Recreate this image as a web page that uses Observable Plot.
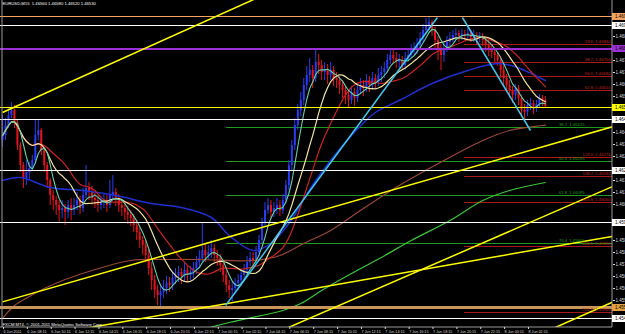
<!DOCTYPE html>
<html><head><meta charset="utf-8">
<script src="https://cdn.jsdelivr.net/npm/d3@7"></script>
<script src="https://cdn.jsdelivr.net/npm/@observablehq/plot@0.6"></script>
<style>html,body{margin:0;padding:0;background:#000;overflow:hidden}</style>
</head><body><div id="chart"></div>
<script>
const symbol = "EURUSD,M15";
const copyright = "FXCM MT4, \u00a9 2001-2011 MetaQuotes Software Corp.";

const opens = [1.46360,1.46385,1.46435,1.46485,1.46510,1.46450,1.46335,1.46235,1.46170,1.46200,
1.46220,1.46260,1.46385,1.46410,1.46310,1.46235,1.46160,1.46085,1.46060,1.46035,
1.46010,1.46020,1.46000,1.46035,1.46010,1.46035,1.46060,1.46020,1.46085,1.46120,
1.46100,1.46070,1.46060,1.46035,1.46045,1.46060,1.46035,1.46085,1.46100,1.46070,
1.46035,1.46020,1.46000,1.45985,1.45970,1.45935,1.45900,1.45860,1.45835,1.45785,
1.45720,1.45660,1.45610,1.45585,1.45600,1.45620,1.45645,1.45635,1.45670,1.45685,
1.45700,1.45680,1.45710,1.45685,1.45700,1.45720,1.45750,1.45770,1.45810,1.45785,
1.45800,1.45820,1.45785,1.45770,1.45735,1.45685,1.45635,1.45610,1.45620,1.45645,
1.45660,1.45685,1.45710,1.45750,1.45770,1.45760,1.45800,1.45860,1.45950,1.46010,
1.46035,1.46000,1.46020,1.46035,1.46010,1.46060,1.46135,1.46235,1.46335,1.46435,
1.46510,1.46560,1.46635,1.46685,1.46710,1.46670,1.46750,1.46735,1.46700,1.46710,
1.46685,1.46710,1.46670,1.46660,1.46635,1.46610,1.46585,1.46560,1.46600,1.46570,
1.46610,1.46635,1.46620,1.46660,1.46635,1.46670,1.46650,1.46685,1.46700,1.46720,
1.46760,1.46785,1.46770,1.46750,1.46760,1.46735,1.46770,1.46785,1.46810,1.46820,
1.46835,1.46870,1.46910,1.46935,1.46950,1.46910,1.46860,1.46810,1.46785,1.46820,
1.46850,1.46870,1.46885,1.46895,1.46880,1.46890,1.46885,1.46895,1.46875,1.46885,
1.46870,1.46880,1.46860,1.46835,1.46820,1.46800,1.46785,1.46760,1.46710,1.46670,
1.46635,1.46610,1.46585,1.46620,1.46570,1.46510,1.46500,1.46535,1.46545,1.46520,
1.46540,1.46570,1.46560];

const highs = [1.46485,1.46470,1.46520,1.46550,1.46535,1.46460,1.46350,1.46250,1.46260,1.46250,
1.46285,1.46460,1.46460,1.46420,1.46320,1.46250,1.46170,1.46110,1.46080,1.46060,
1.46060,1.46040,1.46060,1.46070,1.46070,1.46100,1.46080,1.46120,1.46235,1.46150,
1.46130,1.46100,1.46085,1.46080,1.46090,1.46085,1.46160,1.46185,1.46120,1.46090,
1.46060,1.46045,1.46030,1.46010,1.45990,1.45960,1.45920,1.45880,1.45860,1.45810,
1.45750,1.45685,1.45635,1.45640,1.45660,1.45680,1.45675,1.45700,1.45720,1.45730,
1.45720,1.45750,1.45735,1.45730,1.45750,1.45780,1.45810,1.45945,1.45840,1.45835,
1.45860,1.45840,1.45810,1.45790,1.45760,1.45710,1.45660,1.45650,1.45670,1.45690,
1.45710,1.45740,1.45780,1.45800,1.45800,1.45830,1.45885,1.45970,1.46050,1.46070,
1.46060,1.46050,1.46070,1.46060,1.46090,1.46160,1.46260,1.46360,1.46470,1.46540,
1.46600,1.46670,1.46730,1.46770,1.46735,1.46820,1.46790,1.46760,1.46750,1.46740,
1.46750,1.46730,1.46700,1.46680,1.46660,1.46630,1.46610,1.46630,1.46620,1.46640,
1.46670,1.46660,1.46690,1.46680,1.46700,1.46690,1.46720,1.46730,1.46750,1.46790,
1.46820,1.46810,1.46800,1.46790,1.46780,1.46800,1.46820,1.46840,1.46850,1.46870,
1.46900,1.46940,1.46970,1.46975,1.46960,1.46925,1.46880,1.46840,1.46850,1.46880,
1.46900,1.46910,1.46920,1.46910,1.46915,1.46910,1.46920,1.46910,1.46910,1.46900,
1.46900,1.46895,1.46875,1.46860,1.46840,1.46820,1.46800,1.46780,1.46735,1.46690,
1.46660,1.46630,1.46640,1.46635,1.46585,1.46540,1.46560,1.46570,1.46560,1.46560,
1.46590,1.46585,1.46580];

const lows = [1.46325,1.46360,1.46420,1.46470,1.46420,1.46310,1.46200,1.46120,1.46135,1.46160,
1.46210,1.46245,1.46360,1.46285,1.46200,1.46120,1.46035,1.46010,1.45985,1.45950,
1.45970,1.45935,1.45970,1.45960,1.45985,1.46010,1.45990,1.46000,1.46070,1.46060,
1.46035,1.46020,1.46000,1.46010,1.46020,1.46000,1.46020,1.46060,1.46030,1.46000,
1.45980,1.45960,1.45940,1.45930,1.45900,1.45860,1.45820,1.45785,1.45750,1.45685,
1.45610,1.45570,1.45535,1.45530,1.45570,1.45590,1.45600,1.45610,1.45640,1.45650,
1.45640,1.45650,1.45650,1.45660,1.45670,1.45690,1.45720,1.45750,1.45750,1.45760,
1.45770,1.45750,1.45730,1.45700,1.45650,1.45600,1.45570,1.45545,1.45590,1.45610,
1.45630,1.45660,1.45690,1.45730,1.45720,1.45740,1.45780,1.45840,1.45930,1.45990,
1.45970,1.45975,1.45990,1.45980,1.45990,1.46040,1.46110,1.46210,1.46310,1.46410,
1.46480,1.46535,1.46610,1.46650,1.46620,1.46650,1.46690,1.46660,1.46660,1.46640,
1.46660,1.46630,1.46620,1.46590,1.46570,1.46540,1.46520,1.46540,1.46530,1.46550,
1.46590,1.46580,1.46600,1.46600,1.46610,1.46620,1.46630,1.46650,1.46670,1.46700,
1.46740,1.46740,1.46720,1.46720,1.46710,1.46710,1.46750,1.46770,1.46780,1.46790,
1.46810,1.46850,1.46890,1.46910,1.46880,1.46820,1.46760,1.46710,1.46750,1.46800,
1.46830,1.46850,1.46860,1.46850,1.46860,1.46860,1.46860,1.46850,1.46850,1.46840,
1.46850,1.46830,1.46800,1.46780,1.46770,1.46750,1.46730,1.46670,1.46630,1.46600,
1.46570,1.46545,1.46560,1.46535,1.46480,1.46460,1.46480,1.46510,1.46490,1.46500,
1.46520,1.46530,1.46520];

const closes = [1.46385,1.46435,1.46485,1.46510,1.46450,1.46335,1.46235,1.46170,1.46200,1.46220,
1.46260,1.46385,1.46410,1.46310,1.46235,1.46160,1.46085,1.46060,1.46035,1.46010,
1.46020,1.46000,1.46035,1.46010,1.46035,1.46060,1.46020,1.46085,1.46120,1.46100,
1.46070,1.46060,1.46035,1.46045,1.46060,1.46035,1.46085,1.46100,1.46070,1.46035,
1.46020,1.46000,1.45985,1.45970,1.45935,1.45900,1.45860,1.45835,1.45785,1.45720,
1.45660,1.45610,1.45585,1.45600,1.45620,1.45645,1.45635,1.45670,1.45685,1.45700,
1.45680,1.45710,1.45685,1.45700,1.45720,1.45750,1.45770,1.45810,1.45785,1.45800,
1.45820,1.45785,1.45770,1.45735,1.45685,1.45635,1.45610,1.45620,1.45645,1.45660,
1.45685,1.45710,1.45750,1.45770,1.45760,1.45800,1.45860,1.45950,1.46010,1.46035,
1.46000,1.46020,1.46035,1.46010,1.46060,1.46135,1.46235,1.46335,1.46435,1.46510,
1.46560,1.46635,1.46685,1.46710,1.46670,1.46750,1.46735,1.46700,1.46710,1.46685,
1.46710,1.46670,1.46660,1.46635,1.46610,1.46585,1.46560,1.46600,1.46570,1.46610,
1.46635,1.46620,1.46660,1.46635,1.46670,1.46650,1.46685,1.46700,1.46720,1.46760,
1.46785,1.46770,1.46750,1.46760,1.46735,1.46770,1.46785,1.46810,1.46820,1.46835,
1.46870,1.46910,1.46935,1.46950,1.46910,1.46860,1.46810,1.46785,1.46820,1.46850,
1.46870,1.46885,1.46895,1.46880,1.46890,1.46885,1.46895,1.46875,1.46885,1.46870,
1.46880,1.46860,1.46835,1.46820,1.46800,1.46785,1.46760,1.46710,1.46670,1.46635,
1.46610,1.46585,1.46620,1.46570,1.46510,1.46500,1.46535,1.46545,1.46520,1.46540,
1.46570,1.46560,1.46530];

// time axis (15-minute bars, label every 8 bars)
const timeTickBars = [0,8,16,24,32,40,48,56,64,72,80,88,96,104,112,120,128,136,144,152,160,168,176];
const timeLabels = ["6 Jun 2011","6 Jun 08:15","6 Jun 10:15","6 Jun 12:15","6 Jun 14:15","6 Jun 16:15","6 Jun 18:15","6 Jun 20:15","6 Jun 22:15","7 Jun 00:15","7 Jun 02:15","7 Jun 04:15","7 Jun 06:15","7 Jun 08:15","7 Jun 10:15","7 Jun 12:15","7 Jun 14:15","7 Jun 16:15","7 Jun 18:15","7 Jun 20:15","7 Jun 22:15","8 Jun 00:15","8 Jun 02:15"];
const priceTicks = [1.47000,1.46940,1.46880,1.46820,1.46760,1.46700,1.46640,1.46580,1.46520,1.46460,1.46400,1.46340,1.46280,1.46220,1.46160,1.46100,1.46040,1.45980,1.45920,1.45860,1.45800,1.45740,1.45680,1.45620,1.45560,1.45500,1.45440];

// horizontal lines by colour
const whiteLevels = [1.46935,1.46465,1.46210,1.45950,1.45470];
const orangeLevels = [1.46980];
const purpleLevels = [1.46820];
const yellowLevels = [1.46525];
const tanLevels = [1.45525];

// Fibonacci objects
const fibRedStart = 155;
const fibRedLevels = ["23.6","38.2","50.0","61.8","123.6","138.2","161.8","200.0","261.8"];
const fibRedPrices = [1.46840,1.46750,1.46680,1.46610,1.46275,1.46180,1.46050,1.45830,1.45500];
const fibGreenStart = 75;
const fibGreenLevels = ["38.2","50.0","61.8","76.4"];
const fibGreenPrices = [1.46425,1.46255,1.46085,1.45845];

// trend lines (bar index, price)
const yellowTrends = [
  {i1:0, p1:1.46500, i2:90, p2:1.47104},
  {i1:0, p1:1.45553, i2:205, p2:1.46431},
  {i1:16, p1:1.45390, i2:205, p2:1.45882},
  {i1:90, p1:1.45387, i2:205, p2:1.46133},
  {i1:180, p1:1.45390, i2:205, p2:1.45555}
];
const cyanTrends = [
  {i1:74.8, p1:1.45535, i2:145.8, p2:1.46975},
  {i1:154.2, p1:1.46975, i2:177, p2:1.46410}
];

// slow moving averages
const blueMaBars = [0,6,16,27,38,50,60,70,76,84,90,96,105,117,125,133,144,156,166,172.6,180,182];
const blueMaPrices = [1.46160,1.46175,1.46125,1.46110,1.46085,1.46045,1.46025,1.45975,1.45885,1.45810,1.45845,1.45945,1.46160,1.46385,1.46500,1.46560,1.46645,1.46710,1.46745,1.46725,1.46675,1.46660];
const brownMaBars = [0,4,9,14,21,30,43,55,66,84,93,101,110,120,133,148,161,170,181,182];
const brownMaPrices = [1.45470,1.45535,1.45580,1.45620,1.45665,1.45710,1.45760,1.45765,1.45765,1.45760,1.45785,1.45845,1.45910,1.46010,1.46135,1.46260,1.46360,1.46410,1.46435,1.46437];
const greenMaBars = [61,76,94,100,107,117,127,137,150,161,170,182];
const greenMaPrices = [1.45390,1.45450,1.45510,1.45545,1.45610,1.45695,1.45775,1.45860,1.45960,1.46060,1.46110,1.46150];

// ---------- build ----------
const bars = closes.map((c, i) => ({i, open: opens[i], high: highs[i], low: lows[i], close: c}));
const last = bars[bars.length - 1];
const title = `${symbol}  ${last.open.toFixed(5)} ${last.high.toFixed(5)} ${last.low.toFixed(5)} ${last.close.toFixed(5)}`;
const zip = (xs, ys) => xs.map((x, k) => ({x, y: ys[k]}));
const fibRed = fibRedLevels.map((l, k) => ({level: l, price: fibRedPrices[k]}));
const fibGreen = fibGreenLevels.map((l, k) => ({level: l, price: fibGreenPrices[k]}));

const X0 = -0.67, X1 = 204.5;
const P_BOT = 1.45425, P_TOP = 1.47060;
const BULL = "#2a3cf0", BEAR = "#e3141c";
const crisp = {shapeRendering: "crispEdges"};

// price tags cover the ordinary tick labels beneath them
const tagged = [...whiteLevels, ...orangeLevels, ...purpleLevels, ...yellowLevels, ...tanLevels];
const visibleTicks = priceTicks.filter(t => tagged.every(p => Math.abs(p - t) > 0.00032));

const hline = (levels, color, w) => Plot.ruleY(levels, {y: d => d, stroke: color, strokeWidth: w, ...crisp});
const tag = (levels, color) => [
  Plot.ruleY(levels, {y: d => d, x1: X1, x2: X1 + 4.6, stroke: color, strokeWidth: 7}),
  Plot.text(levels, {y: d => d, x: X1, dx: 2.5, text: d => d.toFixed(5), fill: "#000", textAnchor: "start", fontSize: 4.5})
];

const chart = Plot.plot({
  width: 625, height: 334,
  marginLeft: 0, marginRight: 13, marginTop: 0, marginBottom: 7,
  x: {domain: [X0, X1], axis: null},
  y: {domain: [P_BOT, P_TOP], axis: null},
  style: {background: "#000", color: "#d8d8d8", fontFamily: "Liberation Sans, Arial, sans-serif", fontSize: "4.5px"},
  marks: [
    // fib lines
    Plot.ruleY(fibGreen, {y: "price", x1: fibGreenStart, x2: X1, stroke: "#1f9a1f", strokeWidth: 1, ...crisp}),
    Plot.ruleY(fibRed, {y: "price", x1: fibRedStart, x2: X1, stroke: "#a81818", strokeWidth: 1, ...crisp}),
    // candles
    Plot.ruleX(bars, {filter: d => d.close >= d.open, x: "i", y1: "low", y2: "high", stroke: BULL, strokeWidth: 1}),
    Plot.ruleX(bars, {filter: d => d.close < d.open, x: "i", y1: "low", y2: "high", stroke: BEAR, strokeWidth: 1}),
    Plot.ruleX(bars, {filter: d => d.close >= d.open, x: "i", y1: "open", y2: "close", stroke: BULL, strokeWidth: 2}),
    Plot.ruleX(bars, {filter: d => d.close < d.open, x: "i", y1: "open", y2: "close", stroke: BEAR, strokeWidth: 2}),
    // moving averages
    Plot.line(zip(brownMaBars, brownMaPrices), {x: "x", y: "y", stroke: "#9a4636", strokeWidth: 1.2, curve: "catmull-rom", clip: true}),
    Plot.line(zip(greenMaBars, greenMaPrices), {x: "x", y: "y", stroke: "#38c838", strokeWidth: 1.2, curve: "catmull-rom", clip: true}),
    Plot.line(zip(blueMaBars, blueMaPrices), {x: "x", y: "y", stroke: "#1f2fd0", strokeWidth: 1.5, curve: "catmull-rom", clip: true}),
    Plot.lineY(bars, Plot.windowY({k: 21, anchor: "end", reduce: "mean"}, {x: "i", y: "close", stroke: "#cc2222", strokeWidth: 1.2})),
    Plot.lineY(bars, Plot.windowY({k: 13, anchor: "end", reduce: "mean"}, {x: "i", y: "close", stroke: "#f2e49c", strokeWidth: 1.2})),
    Plot.lineY(bars, Plot.windowY({k: 5, anchor: "end", reduce: "mean"}, {x: "i", y: "close", stroke: "#66d2aa", strokeWidth: 1.1})),
    // horizontal lines
    hline(orangeLevels, "#f4a460", 1.5),
    hline(whiteLevels, "#ffffff", 1.5),
    hline(purpleLevels, "#9b30d6", 2),
    hline(yellowLevels, "#ffff00", 1.5),
    hline(tanLevels, "#c8965a", 3),
    // trend lines
    Plot.link(yellowTrends, {x1: "i1", y1: "p1", x2: "i2", y2: "p2", stroke: "#ffff00", strokeWidth: 1.5, clip: true}),
    Plot.link(cyanTrends, {x1: "i1", y1: "p1", x2: "i2", y2: "p2", stroke: "#40c8f0", strokeWidth: 1.5, clip: true}),
    // fib labels
    Plot.text(fibRed, {x: X1, y: "price", dx: -2, dy: -2.5, text: d => `${d.level}  ${d.price.toFixed(5)}`, textAnchor: "end", fill: "#c02020", fontSize: 4.2}),
    Plot.text(fibGreen, {x: X1, y: "price", dx: -28, dy: -2.5, text: d => `${d.level}  ${d.price.toFixed(5)}`, textAnchor: "end", fill: "#1f9a1f", fontSize: 4.2}),
    // borders
    Plot.ruleX([X0], {stroke: "#9a9a9a", strokeWidth: 1, dx: 1.5}),
    Plot.ruleX([X1], {stroke: "#9a9a9a", strokeWidth: 1, dx: -0.5}),
    Plot.ruleY([P_BOT], {stroke: "#9a9a9a", strokeWidth: 1, dy: -0.5}),
    // axes
    Plot.axisY({anchor: "right", ticks: visibleTicks, tickFormat: d => d.toFixed(5), tickSize: 2, tickPadding: 1, fontSize: 4.5, label: null}),
    Plot.axisX({anchor: "bottom", ticks: timeTickBars, tickFormat: d => timeLabels[timeTickBars.indexOf(d)], tickSize: 2, tickPadding: 0.5, textAnchor: "start", dx: 1, fontSize: 3.7, label: null}),
    // price tags on the right axis
    ...tag(orangeLevels, "#f4a460"),
    ...tag(whiteLevels, "#ffffff"),
    ...tag(purpleLevels, "#9b30d6"),
    ...tag(yellowLevels, "#ffff00"),
    ...tag(tanLevels, "#e0a040"),
    // texts
    Plot.text([title], {frameAnchor: "top-left", dx: 2, dy: 2, text: d => d, fill: "#ffffff", fontSize: 4.2, textAnchor: "start", lineAnchor: "top"}),
    Plot.text([copyright], {frameAnchor: "bottom-left", dx: 2, dy: -2, text: d => d, fill: "#ffffff", fontSize: 4.2, textAnchor: "start", lineAnchor: "bottom"})
  ]
});
document.getElementById("chart").append(chart);
</script>
</body></html>
